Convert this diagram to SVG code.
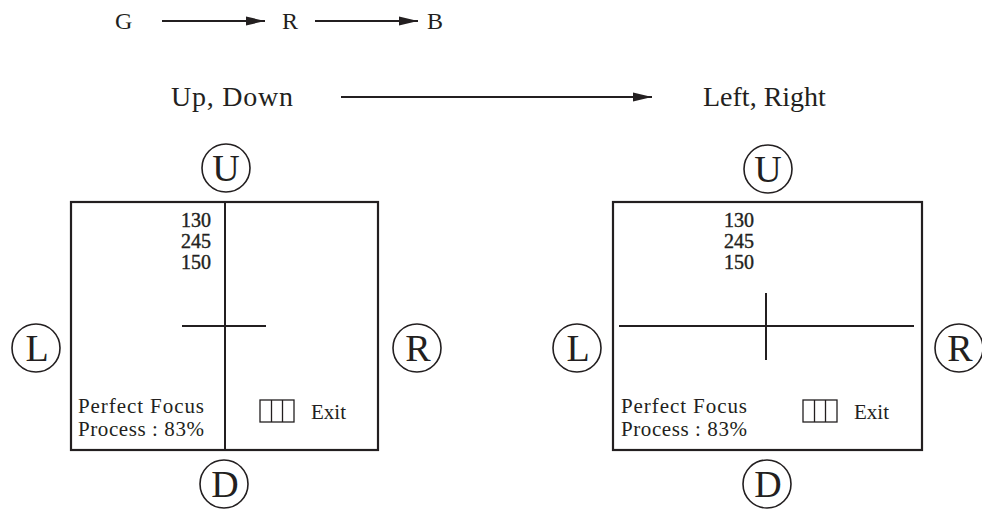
<svg xmlns="http://www.w3.org/2000/svg" width="982" height="509" viewBox="0 0 982 509">
<style>
text{font-family:"Liberation Serif","DejaVu Serif","Times New Roman",serif;fill:#231f20}
.lbl{font-size:24px}
.lbl2{font-size:28px}
.num{font-size:20px;stroke:#231f20;stroke-width:0.4}
.txt{font-size:21px}
.big{font-size:38px;text-anchor:middle}
.box{fill:none;stroke:#231f20;stroke-width:2.2}
.ln{stroke:#231f20;stroke-width:2}
.circ{fill:none;stroke:#231f20;stroke-width:1.6}
.icon{fill:none;stroke:#231f20;stroke-width:1.3}
.arr{stroke:#231f20;stroke-width:2;fill:none;marker-end:url(#ah)}
</style>
<defs>
<marker id="ah" markerWidth="20" markerHeight="10" refX="19" refY="5" orient="auto" markerUnits="userSpaceOnUse">
<path d="M0,0.5 L19,5 L0,9.5 Z" fill="#231f20"/>
</marker>
</defs>
<rect width="982" height="509" fill="#ffffff"/>
<g id="labels">
<text class="lbl" x="115" y="29">G</text>
<text class="lbl" x="282" y="29">R</text>
<text class="lbl" x="427" y="29">B</text>
<text class="lbl2" x="171" y="106" textLength="122">Up, Down</text>
<text class="lbl2" x="703" y="106">Left, Right</text>
</g>
<g id="connectors">
<line class="arr" x1="162" y1="21" x2="265" y2="21"/>
<line class="arr" x1="315" y1="21" x2="418" y2="21"/>
<line class="arr" x1="341" y1="97" x2="652" y2="97"/>
</g>
<g id="panel-left">
<rect class="box" x="71" y="202" width="307" height="248"/>
<line class="ln" x1="225" y1="202" x2="225" y2="450"/>
<line class="ln" x1="182" y1="326" x2="266" y2="326"/>
<text class="num" x="181" y="227">130</text>
<text class="num" x="181" y="248">245</text>
<text class="num" x="181" y="269">150</text>
<text class="txt" x="78" y="413" textLength="126">Perfect Focus</text>
<text class="txt" x="78" y="436" textLength="126">Process : 83%</text>
<rect class="icon" x="260" y="400" width="34" height="22"/>
<line class="icon" x1="271.5" y1="400" x2="271.5" y2="422"/>
<line class="icon" x1="282.5" y1="400" x2="282.5" y2="422"/>
<text class="txt" x="311" y="419">Exit</text>
</g>
<g id="left-U"><circle class="circ" cx="226" cy="168" r="24"/><text class="big" x="226" y="181">U</text></g>
<g id="left-L"><circle class="circ" cx="36" cy="348" r="24"/><text class="big" x="37" y="361">L</text></g>
<g id="left-R"><circle class="circ" cx="417" cy="348" r="24"/><text class="big" x="418" y="361">R</text></g>
<g id="left-D"><circle class="circ" cx="224" cy="484" r="24"/><text class="big" x="225" y="497">D</text></g>
<g id="panel-right">
<rect class="box" x="613" y="202" width="309" height="248"/>
<line class="ln" x1="619" y1="326" x2="914" y2="326"/>
<line class="ln" x1="766" y1="293" x2="766" y2="360"/>
<text class="num" x="724" y="227">130</text>
<text class="num" x="724" y="248">245</text>
<text class="num" x="724" y="269">150</text>
<text class="txt" x="621" y="413" textLength="126">Perfect Focus</text>
<text class="txt" x="621" y="436" textLength="126">Process : 83%</text>
<rect class="icon" x="803" y="400" width="34" height="22"/>
<line class="icon" x1="814.5" y1="400" x2="814.5" y2="422"/>
<line class="icon" x1="825.5" y1="400" x2="825.5" y2="422"/>
<text class="txt" x="854" y="419">Exit</text>
</g>
<g id="right-U"><circle class="circ" cx="768" cy="169" r="24"/><text class="big" x="768" y="182">U</text></g>
<g id="right-L"><circle class="circ" cx="577" cy="348" r="24"/><text class="big" x="578" y="361">L</text></g>
<g id="right-R"><circle class="circ" cx="959" cy="348" r="24"/><text class="big" x="960" y="361">R</text></g>
<g id="right-D"><circle class="circ" cx="767" cy="484" r="24"/><text class="big" x="768" y="497">D</text></g>
</svg>
